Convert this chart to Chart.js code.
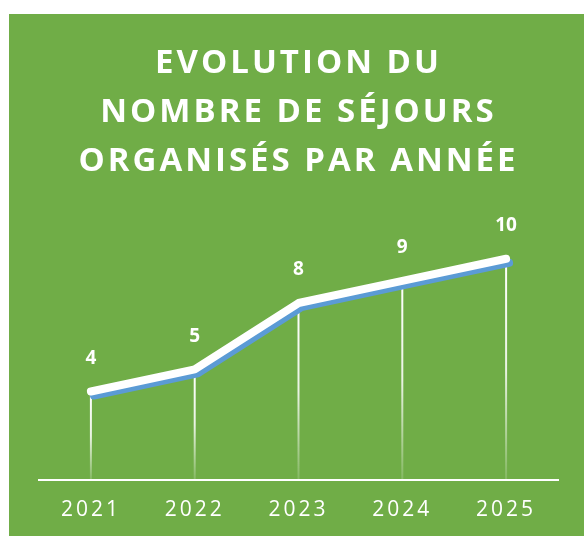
<!DOCTYPE html>
<html>
<head>
<meta charset="utf-8">
<script src="https://cdn.jsdelivr.net/npm/chart.js@4"></script>
<style>
  body { margin: 0; background: #ffffff; }
  #wrap { position: absolute; left: 9px; top: 14px; width: 575px; height: 522px; background: #70ad47; }
</style>
</head>
<body>
<div id="wrap"><canvas id="sejoursChart" width="575" height="522"></canvas></div>
<script>
const years = ['2021', '2022', '2023', '2024', '2025'];
const sejours = [4, 5, 8, 9, 10];
const titleLines = ['EVOLUTION DU', 'NOMBRE DE SÉJOURS', 'ORGANISÉS PAR ANNÉE'];

const FONT = '"Open Sans", sans-serif';

// letter spacing for title + tick text
const spacing = {
    id: 'spacing',
    beforeDraw(chart) {
        chart.ctx.letterSpacing = '3px';
    }
};

// blue shadow under the white line
const lineShadow = {
    id: 'lineShadow',
    beforeDatasetDraw(chart) {
        const ctx = chart.ctx;
        ctx.save();
        ctx.shadowColor = '#5b9bd5';
        ctx.shadowBlur = 0;
        ctx.shadowOffsetX = 3;
        ctx.shadowOffsetY = 4;
    },
    afterDatasetDraw(chart) {
        chart.ctx.restore();
    }
};

// fading drop lines from each point to the axis
const dropLines = {
    id: 'dropLines',
    beforeDatasetsDraw(chart) {
        const ctx = chart.ctx;
        const meta = chart.getDatasetMeta(0);
        const bottom = chart.chartArea.bottom;
        ctx.save();
        ctx.lineWidth = 2;
        meta.data.forEach(pt => {
            const g = ctx.createLinearGradient(0, pt.y, 0, bottom);
            g.addColorStop(0, 'rgba(255,255,255,1)');
            g.addColorStop(0.5, 'rgba(255,255,255,0.85)');
            g.addColorStop(1, 'rgba(255,255,255,0.15)');
            ctx.strokeStyle = g;
            ctx.beginPath();
            ctx.moveTo(pt.x, pt.y);
            ctx.lineTo(pt.x, bottom);
            ctx.stroke();
        });
        ctx.restore();
    }
};

// value labels above points
const valueLabels = {
    id: 'valueLabels',
    afterDatasetsDraw(chart) {
        const ctx = chart.ctx;
        const meta = chart.getDatasetMeta(0);
        ctx.save();
        ctx.letterSpacing = '0px';
        ctx.fillStyle = '#ffffff';
        ctx.font = 'bold 19px ' + FONT;
        ctx.textAlign = 'center';
        ctx.textBaseline = 'middle';
        meta.data.forEach((pt, i) => {
            ctx.fillText(String(sejours[i]), pt.x, pt.y - 33);
        });
        ctx.restore();
    }
};

new Chart(document.getElementById('sejoursChart').getContext('2d'), {
    type: 'line',
    data: {
        labels: years,
        datasets: [{
            label: 'Séjours',
            data: sejours,
            borderColor: '#ffffff',
            borderWidth: 8,
            borderCapStyle: 'round',
            borderJoinStyle: 'round',
            pointRadius: 0,
            tension: 0,
            fill: false
        }]
    },
    options: {
        responsive: false,
        animation: false,
        layout: { padding: { left: 30, right: 26, top: 0, bottom: 0 } },
        plugins: {
            legend: { display: false },
            tooltip: { enabled: false },
            title: {
                display: true,
                text: titleLines,
                color: '#ffffff',
                font: { family: FONT, size: 33, weight: 'bold', lineHeight: 1.48 },
                padding: { top: 25, bottom: 29 }
            }
        },
        scales: {
            y: {
                display: false,
                min: 0,
                max: 12
            },
            x: {
                offset: true,
                grid: { display: false, drawTicks: false },
                border: { display: true, color: '#ffffff', width: 2 },
                ticks: {
                    color: '#ffffff',
                    font: { family: FONT, size: 21 },
                    padding: 17
                },
                afterFit(scale) {
                    scale.height = 56;
                }
            }
        }
    },
    plugins: [spacing, lineShadow, dropLines, valueLabels]
});
</script>
</body>
</html>
